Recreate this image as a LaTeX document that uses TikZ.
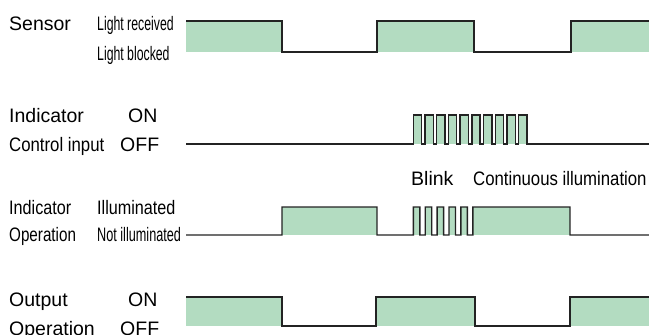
\documentclass[tikz,border=0pt]{standalone}
\usepackage{fontspec}
\setmainfont{Liberation Sans}
\newfontfamily\cA[FakeStretch=0.63]{Liberation Sans}
\newfontfamily\cB[FakeStretch=0.65]{Liberation Sans}
\newfontfamily\cC[FakeStretch=0.78]{Liberation Sans}
\newfontfamily\cD[FakeStretch=0.83]{Liberation Sans}
\newfontfamily\cE[FakeStretch=0.86]{Liberation Sans}
\definecolor{wavefill}{RGB}{179,220,193}
\definecolor{waveline}{RGB}{35,35,35}
\tikzset{
  lbl/.style={anchor=base west,inner sep=0pt,font=\fontsize{19.5}{23}\selectfont},
  wave/.style={draw=waveline,line width=1.4pt,line join=miter},
  wfill/.style={fill=wavefill,draw=none}
}
\begin{document}
\begin{tikzpicture}[x=1pt,y=-1pt]
\useasboundingbox (0,0) rectangle (649,335);
% ---------- labels ----------
\node[lbl] (s1) at (9,30) {Sensor};
\node[lbl] (s2) at (97,30) {\cA Light received};
\node[lbl] (s3) at (97,60) {\cA Light blocked};
\node[lbl] (c1) at (9,122.7) {Indicator};
\node[lbl] (c2) at (128,122.7) {ON};
\node[lbl] (c3) at (9,151.7) {\cE Control input};
\node[lbl] (c4) at (120,151.7) {OFF};
\node[lbl] (o1) at (9,214) {\cD Indicator};
\node[lbl] (o2) at (97,214) {\cD Illuminated};
\node[lbl] (o3) at (9,241.7) {\cC Operation};
\node[lbl] (o4) at (97,241.7) {\cB Not illuminated};
\node[lbl] (b1) at (411,185.7) {Blink};
\node[lbl] (b2) at (473,185.7) {\cE Continuous illumination};
\node[lbl] (u1) at (9,306) {Output};
\node[lbl] (u2) at (128,306) {ON};
\node[lbl] (u3) at (9,335) {Operation};
\node[lbl] (u4) at (120,335) {OFF};
% ---------- row 1: sensor ----------
\fill[wfill] (186,21) rectangle (282,52);
\fill[wfill] (377,21) rectangle (474,52);
\fill[wfill] (571,21) rectangle (649,52);
\draw[wave] (186,21) -- (282,21) -- (282,52) -- (377,52) -- (377,21) -- (474,21) -- (474,52) -- (571,52) -- (571,21) -- (649,21);
% ---------- row 2: control input ----------
\foreach \i in {0,...,9} {
  \fill[wfill] ({413.3+11.7*\i},115) rectangle ({413.3+11.7*\i+8.3},144);
}
\draw[wave] (186,144) -- (413.3,144)
  \foreach \i in {0,...,9} { -- ({413.3+11.7*\i},115) -- ({413.3+11.7*\i+8.3},115) -- ({413.3+11.7*\i+8.3},144) -- ({413.3+11.7*\i+11.7},144) }
  ;
\draw[wave] (526,144) -- (649,144);
% ---------- row 3: indicator operation ----------
\fill[wfill] (282,207) rectangle (377,235);
\foreach \i in {0,...,4} {
  \fill[wfill] ({413.3+11.9*\i},207) rectangle ({413.3+11.9*\i+6.5},235);
}
\fill[wfill] (472.8,207) rectangle (570,235);
\draw[wave] (186,235) -- (282,235) -- (282,207) -- (377,207) -- (377,235) -- (413.3,235)
  \foreach \i in {0,...,4} { -- ({413.3+11.9*\i},207) -- ({413.3+11.9*\i+6.5},207) -- ({413.3+11.9*\i+6.5},235) -- ({413.3+11.9*\i+11.9},235) }
  -- (472.8,207) -- (570,207) -- (570,235) -- (649,235);
% ---------- row 4: output ----------
\fill[wfill] (186,297) rectangle (282,326);
\fill[wfill] (376,297) rectangle (475,326);
\fill[wfill] (570,297) rectangle (649,326);
\draw[wave] (186,297) -- (282,297) -- (282,326) -- (376,326) -- (376,297) -- (475,297) -- (475,326) -- (570,326) -- (570,297) -- (649,297);
\end{tikzpicture}
\end{document}
